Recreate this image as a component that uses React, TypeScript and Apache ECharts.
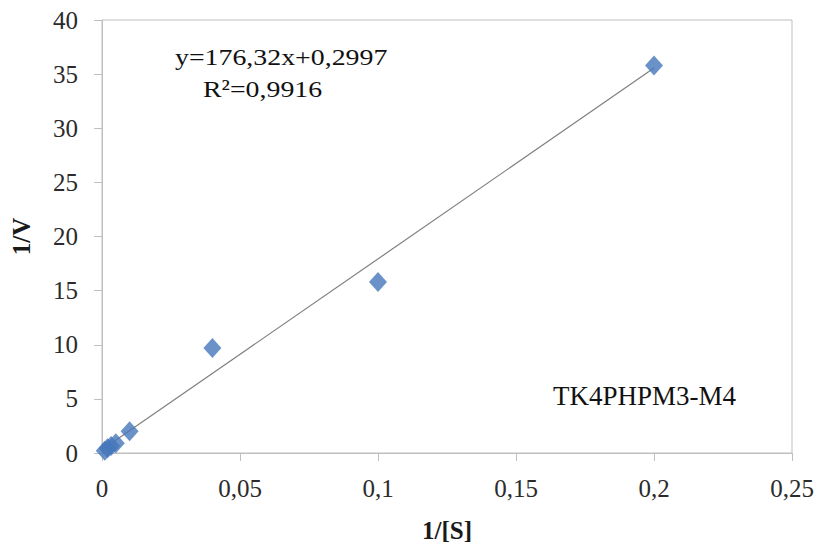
import React, { useEffect, useRef } from "react";
import * as echarts from "echarts";

const xValues = [0.001, 0.002, 0.0033, 0.005, 0.01, 0.04, 0.1, 0.2];
const yValues = [0.2, 0.45, 0.65, 0.9, 2.0, 9.7, 15.8, 35.8];
const xTicks = [0, 0.05, 0.1, 0.15, 0.2, 0.25];
const yTicks = [0, 5, 10, 15, 20, 25, 30, 35, 40];
const slope = 176.32;
const intercept = 0.2997;
const equationText = "y=176,32x+0,2997";
const r2Text = "R\u00b2=0,9916";
const sampleLabel = "TK4PHPM3-M4";
const xTitle = "1/[S]";
const yTitle = "1/V";

const FONT = "'Liberation Serif', 'Times New Roman', serif";

export default function App() {
  const ref = useRef<HTMLDivElement>(null);
  useEffect(() => {
    if (!ref.current) return;
    const chart = echarts.init(ref.current, null, { renderer: "svg" });
    const trendX = [0, xValues[xValues.length - 1]];
    const trend = trendX.map((x) => [x, slope * x + intercept]);
    const fmt = (v: number) => String(v).replace(".", ",");
    chart.setOption({
      animation: false,
      backgroundColor: "#ffffff",
      grid: {
        left: 102,
        top: 20,
        right: 29,
        bottom: 99,
        show: true,
        borderColor: "#bfbfbf",
        borderWidth: 1,
      },
      xAxis: {
        type: "value",
        min: xTicks[0],
        max: xTicks[xTicks.length - 1],
        interval: 0.05,
        name: xTitle,
        nameLocation: "middle",
        nameGap: 65,
        nameTextStyle: { fontFamily: FONT, fontSize: 25, fontWeight: "bold", color: "#1a1a1a" },
        axisLine: { show: true, lineStyle: { color: "#bfbfbf" } },
        axisTick: { show: true, length: 8, lineStyle: { color: "#bfbfbf" } },
        splitLine: { show: false },
        axisLabel: {
          fontFamily: FONT,
          fontSize: 25,
          color: "#2b2b2b",
          margin: 23,
          formatter: (v: number) => fmt(Math.round(v * 100) / 100),
        },
      },
      yAxis: {
        type: "value",
        min: yTicks[0],
        max: yTicks[yTicks.length - 1],
        interval: 5,
        name: yTitle,
        nameLocation: "middle",
        nameGap: 68,
        nameRotate: 90,
        nameTextStyle: { fontFamily: FONT, fontSize: 25, fontWeight: "bold", color: "#1a1a1a" },
        axisLine: { show: true, lineStyle: { color: "#bfbfbf" } },
        axisTick: { show: true, length: 8, lineStyle: { color: "#bfbfbf" } },
        splitLine: { show: false },
        axisLabel: { fontFamily: FONT, fontSize: 25, color: "#2b2b2b", margin: 24 },
      },
      series: [
        {
          type: "line",
          data: trend,
          showSymbol: false,
          symbol: "none",
          lineStyle: { color: "#7f7f7f", width: 1.2 },
          z: 1,
          silent: true,
        },
        {
          type: "scatter",
          data: xValues.map((x, i) => [x, yValues[i]]),
          symbol: "diamond",
          symbolSize: [18, 20],
          itemStyle: { color: "#4677ba" },
          z: 2,
        },
      ],
      graphic: [
        {
          type: "text",
          x: 175,
          y: 45,
          scaleX: 1.16,
          style: { text: equationText, font: `24px ${FONT}`, fill: "#111" },
        },
        {
          type: "text",
          x: 203,
          y: 77,
          scaleX: 1.16,
          style: { text: r2Text, font: `24px ${FONT}`, fill: "#111" },
        },
        {
          type: "text",
          x: 553,
          y: 382,
          style: { text: sampleLabel, font: `27px ${FONT}`, fill: "#111" },
        },
      ],
    });
    return () => chart.dispose();
  }, []);
  return <div ref={ref} style={{ width: 821, height: 552, position: "absolute", left: 0, top: 0 }} />;
}
